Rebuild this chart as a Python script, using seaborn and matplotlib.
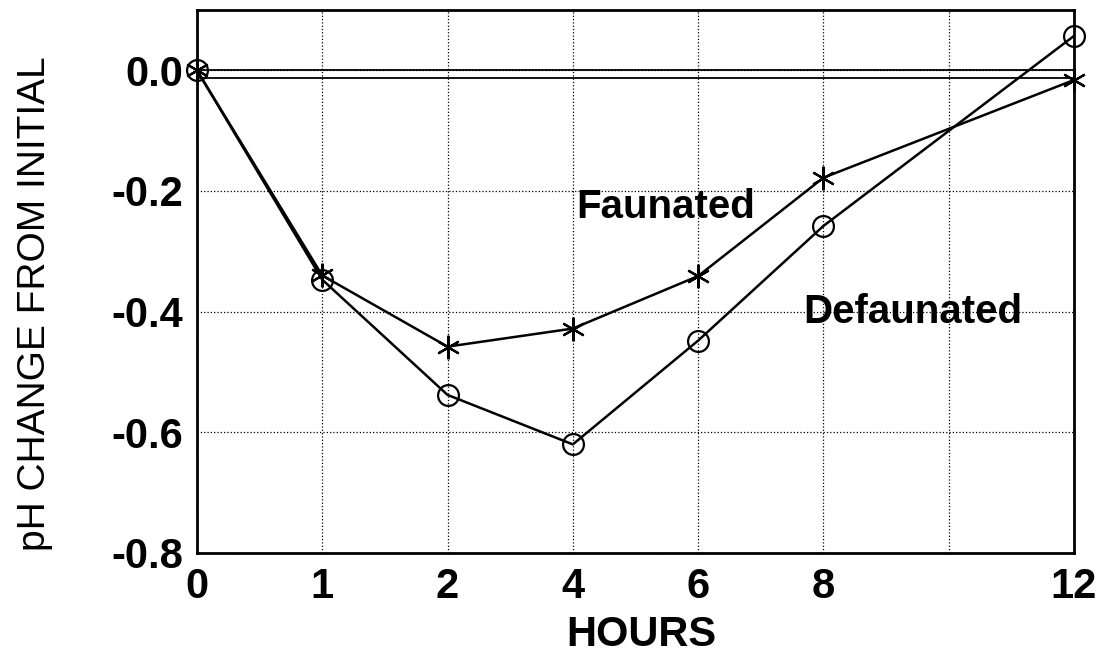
import pandas as pd
import seaborn as sns
from matplotlib import pyplot as plt

# sampling times (hours) and pH change from initial
hours = [0, 1, 2, 4, 6, 8, 12]
faunated = [0.0, -0.34, -0.458, -0.428, -0.341, -0.178, -0.016]
defaunated = [0.0, -0.347, -0.538, -0.62, -0.448, -0.258, 0.057]

# the x axis is spaced by category, 10 h has a grid line but no label
axis_hours = [0, 1, 2, 4, 6, 8, 10, 12]
tick_labels = ['0', '1', '2', '4', '6', '8', '', '12']
y_ticks = [0.0, -0.2, -0.4, -0.6, -0.8]
y_labels = ['0.0', '-0.2', '-0.4', '-0.6', '-0.8']


def set_env():
    sns.set_style('white')
    plt.rcParams['font.family'] = ['Liberation Sans', 'DejaVu Sans']
    plt.rcParams['text.color'] = 'black'
    plt.rcParams['axes.labelcolor'] = 'black'
    plt.rcParams['xtick.color'] = 'black'
    plt.rcParams['ytick.color'] = 'black'


set_env()

pos = [axis_hours.index(h) for h in hours]

fig = plt.figure(figsize=(11.04, 6.58), dpi=100)
ax = fig.add_axes([0.1784, 0.1596, 0.7944, 0.8252])

# faunated: asterisks
sns.lineplot(x=pos, y=faunated, color='black', marker=(6, 2, 0), markersize=17,
             markeredgecolor='black', markeredgewidth=1.6, linewidth=1.8,
             ax=ax, clip_on=False, zorder=3)
# defaunated: open circles
sns.lineplot(x=pos, y=defaunated, color='black', marker='o', markersize=15,
             markerfacecolor='none', markeredgecolor='black', markeredgewidth=1.6,
             linewidth=1.8, ax=ax, clip_on=False, zorder=3)

# zero reference (doubled line in the original)
ax.axhline(0.0, color='black', lw=1.3, zorder=2)
ax.axhline(-0.012, color='black', lw=1.3, zorder=2)

ax.set_xlim(0, len(axis_hours) - 1)
ax.set_ylim(-0.8, 0.1)
ax.set_xticks(range(len(axis_hours)))
ax.set_xticklabels(tick_labels, fontsize=30, fontweight='bold')
ax.set_yticks(y_ticks)
ax.set_yticklabels(y_labels, fontsize=30, fontweight='bold')
ax.tick_params(direction='in', length=7, width=1.5, pad=10)
ax.tick_params(axis='x', pad=10)
ax.grid(True, linestyle=':', color='black', linewidth=0.9)
for s in ax.spines.values():
    s.set_visible(True)
    s.set_color('black')
    s.set_linewidth(2)

ax.set_xlabel('HOURS', fontsize=30, fontweight='bold')
ax.xaxis.set_label_coords(0.507, -0.115)
ax.set_ylabel('pH CHANGE FROM INITIAL', fontsize=28)
ax.yaxis.set_label_coords(-0.164, 0.46)

ax.text(3.03, -0.226, 'Faunated', fontsize=29, fontweight='bold', va='center')
ax.text(4.84, -0.40, 'Defaunated', fontsize=29, fontweight='bold', va='center')

plt.savefig('out.png', dpi=100)
